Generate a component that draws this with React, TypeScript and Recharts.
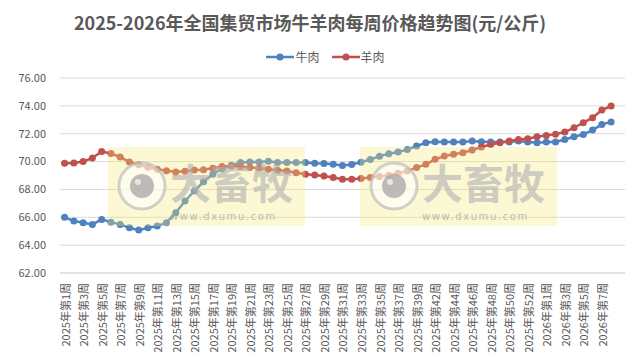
import { LineChart, Line, XAxis, YAxis, CartesianGrid } from "recharts";

const weeks = [
  "2025年第1周", "2025年第2周", "2025年第3周", "2025年第4周", "2025年第5周", "2025年第6周",
  "2025年第7周", "2025年第8周", "2025年第9周", "2025年第10周", "2025年第11周", "2025年第12周",
  "2025年第13周", "2025年第14周", "2025年第15周", "2025年第16周", "2025年第17周", "2025年第18周",
  "2025年第19周", "2025年第20周", "2025年第21周", "2025年第22周", "2025年第23周", "2025年第24周",
  "2025年第25周", "2025年第26周", "2025年第27周", "2025年第28周", "2025年第29周", "2025年第30周",
  "2025年第31周", "2025年第32周", "2025年第33周", "2025年第34周", "2025年第35周", "2025年第36周",
  "2025年第37周", "2025年第38周", "2025年第39周", "2025年第41周", "2025年第42周", "2025年第43周",
  "2025年第44周", "2025年第45周", "2025年第46周", "2025年第47周", "2025年第48周", "2025年第49周",
  "2025年第50周", "2025年第51周", "2025年第52周", "2025年第53周", "2026年第1周", "2026年第2周",
  "2026年第3周", "2026年第4周", "2026年第5周", "2026年第6周", "2026年第7周", "2026年第8周",
];

// 牛肉
const beef = [
  66.0, 65.73, 65.61, 65.49, 65.85, 65.65, 65.49, 65.25, 65.08, 65.25,
  65.37, 65.61, 66.33, 67.17, 67.88, 68.55, 69.09, 69.49, 69.73, 69.93,
  69.97, 69.97, 70.02, 69.93, 69.93, 69.93, 69.93, 69.88, 69.86, 69.8,
  69.72, 69.79, 69.96, 70.15, 70.39, 70.56, 70.68, 70.87, 71.11, 71.35,
  71.42, 71.4, 71.4, 71.4, 71.47, 71.43, 71.4, 71.4, 71.4, 71.47,
  71.4, 71.35, 71.4, 71.4, 71.59, 71.78, 71.95, 72.26, 72.67, 72.84,
];

// 羊肉
const mutton = [
  69.88, 69.9, 70.0, 70.26, 70.72, 70.58, 70.33, 69.97, 69.78, 69.59,
  69.45, 69.35, 69.25, 69.3, 69.4, 69.42, 69.52, 69.64, 69.68, 69.64,
  69.57, 69.54, 69.45, 69.37, 69.32, 69.2, 69.09, 69.04, 68.97, 68.85,
  68.73, 68.73, 68.78, 68.85, 68.92, 69.01, 69.16, 69.32, 69.57, 69.8,
  70.16, 70.4, 70.52, 70.64, 70.83, 71.05, 71.23, 71.35, 71.47, 71.59,
  71.64, 71.78, 71.88, 71.97, 72.12, 72.43, 72.79, 73.15, 73.7, 73.99,
];

const yTicks = [62, 64, 66, 68, 70, 72, 74, 76];

const BLUE = "#4f81bd";
const RED = "#c0504d";
const TEXT = "#595959";
const FONT = "'Noto Sans CJK SC', 'Noto Sans', sans-serif";

const series = [
  { key: "beef", name: "牛肉", color: BLUE },
  { key: "mutton", name: "羊肉", color: RED },
];

const data = weeks.map((w, i) => ({ week: w, beef: beef[i], mutton: mutton[i] }));

function WeekTick({ x, y, payload }: any) {
  return (
    <text
      x={x}
      y={y}
      transform={`rotate(-90 ${x} ${y})`}
      textAnchor="end"
      dominantBaseline="central"
      fontSize={11}
      fill={TEXT}
      fontFamily={FONT}
    >
      {payload.value}
    </text>
  );
}

function LegendBox() {
  return (
    <div
      style={{
        position: "absolute",
        top: 48,
        left: 0,
        width: 641,
        display: "flex",
        justifyContent: "center",
        gap: 12,
        fontFamily: FONT,
        fontSize: 12,
        color: TEXT,
        paddingLeft: 10,
        boxSizing: "border-box",
      }}
    >
      {series.map((s) => (
        <span key={s.key} style={{ display: "flex", alignItems: "center" }}>
          <svg width={28} height={10} style={{ marginRight: 1 }}>
            <line x1={0} y1={5} x2={28} y2={5} stroke={s.color} strokeWidth={2.5} />
            <circle cx={14} cy={5} r={3.5} fill={s.color} />
          </svg>
          {s.name}
        </span>
      ))}
    </div>
  );
}

// 水印
function Watermark({ x }: { x: number }) {
  return (
    <g>
      <rect x={x} y={147} width={197} height={79} fill="rgba(245,232,120,0.32)" />
      <circle cx={x + 34} cy={186} r={23} fill="rgba(255,255,255,0.55)" stroke="rgba(190,190,190,0.7)" strokeWidth={3} />
      <circle cx={x + 34} cy={186} r={12} fill="rgba(165,165,165,0.75)" />
      <circle cx={x + 30} cy={182} r={3} fill="rgba(235,235,235,0.9)" />
      <text x={x + 62} y={199} fontSize={41} fontWeight={700} fill="rgba(175,175,175,0.6)" fontFamily={FONT}>
        大畜牧
      </text>
      <text x={x + 62} y={220} fontSize={10} letterSpacing={1.6} fill="rgba(160,160,160,0.7)" fontFamily="'DejaVu Sans', sans-serif">
        www.dxumu.com
      </text>
    </g>
  );
}

export default function App() {
  return (
    <div style={{ position: "absolute", left: 0, top: 0, width: 641, height: 357, background: "#fff" }}>
      <div
        style={{
          position: "absolute",
          top: 8,
          left: 0,
          width: 620,
          textAlign: "center",
          fontFamily: FONT,
          fontWeight: 700,
          fontSize: 18,
          color: TEXT,
          lineHeight: "28px",
        }}
      >
        2025-2026年全国集贸市场牛羊肉每周价格趋势图(元/公斤)
      </div>
      <LegendBox />
      <LineChart width={641} height={357} data={data} margin={{ top: 78, right: 16, bottom: 0, left: 0 }}>
        <CartesianGrid vertical={false} stroke="#d9d9d9" />
        <XAxis
          dataKey="week"
          interval={1}
          tickLine={false}
          axisLine={{ stroke: "#d9d9d9" }}
          tickMargin={4}
          tick={<WeekTick />}
          height={84}
          padding={{ left: 4.6, right: 13.9 }}
        />
        <YAxis
          domain={[62, 76]}
          ticks={yTicks}
          tickFormatter={(v: number) => v.toFixed(2)}
          axisLine={false}
          tickLine={false}
          tickMargin={8}
          width={60}
          tick={{ fontSize: 11, fill: TEXT, fontFamily: FONT }}
        />
        {series.map((s) => (
          <Line
            key={s.key}
            name={s.name}
            dataKey={s.key}
            stroke={s.color}
            strokeWidth={2.5}
            dot={{ r: 3.5, fill: s.color, stroke: "none" }}
            isAnimationActive={false}
          />
        ))}
      </LineChart>
      <svg width={641} height={357} style={{ position: "absolute", left: 0, top: 0, pointerEvents: "none" }}>
        <Watermark x={108} />
        <Watermark x={360} />
      </svg>
    </div>
  );
}
